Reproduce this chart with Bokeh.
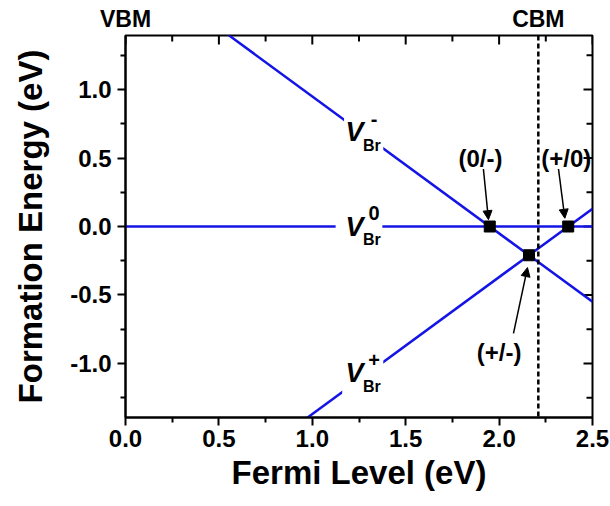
from bokeh.plotting import figure
from bokeh.models import (LinearAxis, Range1d, Span, Label, Arrow, NormalHead,
                          BoxAnnotation, FixedTicker, PrintfTickFormatter)
from bokeh.embed import file_html
from bokeh.resources import INLINE

# ---- data ----
fermi = [0.0, 2.5]                 # Fermi level end points (eV)
e_vbr_minus = [1.95, -0.55]        # V_Br^- formation energy at those ends
e_vbr_zero = [0.0, 0.0]            # V_Br^0
e_vbr_plus = [-2.37, 0.13]         # V_Br^+
trans_x = [1.95, 2.16, 2.37]       # transition levels (0/-), (+/-), (+/0)
trans_y = [0.0, -0.21, 0.0]
edge_x = [0.0, 2.21]               # VBM, CBM positions
edge_names = ["VBM", "CBM"]
cbm_x = edge_x[1]

x_major = [0.0, 0.5, 1.0, 1.5, 2.0, 2.5]
x_minor = [0.25, 0.75, 1.25, 1.75, 2.25]
y_major = [-1.0, -0.5, 0.0, 0.5, 1.0]
y_minor = [-1.25, -0.75, -0.25, 0.25, 0.75, 1.25]

X_START, X_END = 0.0, 2.5
Y_START, Y_END = -1.395, 1.395
FRAME_W, FRAME_H = 467, 382

FONT = "Liberation Sans"
BLUE = "#1414e6"

p = figure(x_range=Range1d(X_START, X_END), y_range=Range1d(Y_START, Y_END),
           frame_width=FRAME_W, frame_height=FRAME_H,
           min_border_left=125, min_border_right=18, min_border_top=35, min_border_bottom=89,
           output_backend="svg", toolbar_location=None)
p.xgrid.visible = False
p.ygrid.visible = False
p.outline_line_color = "black"
p.outline_line_width = 2
p.background_fill_color = "white"
p.border_fill_color = "white"

fmt = PrintfTickFormatter(format="%.1f")


def style(ax, label_size="24px"):
    ax.axis_line_width = 2
    ax.major_tick_line_width = 2
    ax.minor_tick_line_width = 2
    ax.major_tick_in, ax.major_tick_out = 0, 8
    ax.minor_tick_in, ax.minor_tick_out = 0, 5
    ax.major_label_text_font = FONT
    ax.major_label_text_font_style = "bold"
    ax.major_label_text_font_size = label_size
    ax.major_label_text_color = "black"
    ax.axis_label_text_font = FONT
    ax.axis_label_text_font_style = "bold"
    ax.axis_label_text_color = "black"


xa = p.xaxis[0]
xa.ticker = FixedTicker(ticks=x_major, minor_ticks=x_minor)
xa.formatter = fmt
style(xa)
xa.major_label_standoff = 4
xa.axis_label = "Fermi Level (eV)"
xa.axis_label_text_font_size = "33px"
xa.axis_label_standoff = 4

ya = p.yaxis[0]
ya.ticker = FixedTicker(ticks=y_major, minor_ticks=y_minor)
ya.formatter = fmt
style(ya)
ya.major_label_standoff = 6
ya.axis_label = "Formation Energy (eV)"
ya.axis_label_text_font_size = "33px"
ya.axis_label_standoff = 18

# VBM / CBM labels via a top axis
edge_axis = LinearAxis(ticker=FixedTicker(ticks=edge_x),
                       major_label_overrides={edge_x[0]: edge_names[0], edge_x[1]: edge_names[1]})
style(edge_axis, "23px")
edge_axis.axis_line_color = None
edge_axis.major_tick_line_color = None
edge_axis.minor_tick_line_color = None
edge_axis.major_tick_out = 0
edge_axis.minor_tick_out = 0
edge_axis.major_label_standoff = 4
p.add_layout(edge_axis, "above")

# inward ticks on top and right frame edges (lengths in px converted to data units)
dy_per_px = (Y_END - Y_START) / FRAME_H
dx_per_px = (X_END - X_START) / FRAME_W


def top_ticks(xs, n_px):
    p.segment(x0=xs, y0=[Y_END] * len(xs), x1=xs, y1=[Y_END - n_px * dy_per_px] * len(xs),
              line_color="black", line_width=2)


def right_ticks(ys, n_px):
    p.segment(x0=[X_END] * len(ys), y0=ys, x1=[X_END - n_px * dx_per_px] * len(ys), y1=ys,
              line_color="black", line_width=2)


top_ticks(x_major, 9)
top_ticks(x_minor, 6)
right_ticks(y_major, 9)
right_ticks(y_minor, 6)

# lines
for ys in (e_vbr_minus, e_vbr_zero, e_vbr_plus):
    p.line(fermi, ys, line_color=BLUE, line_width=2.5)

# CBM dashed line
p.add_layout(Span(location=cbm_x, dimension="height", line_color="black",
                  line_width=2.5, line_dash="5 3"))

# gaps in lines behind labels
for l, r, b, t in ((1.17, 1.38, 0.55, 0.80), (1.125, 1.375, -0.05, 0.05), (1.16, 1.38, -1.23, -0.97)):
    p.add_layout(BoxAnnotation(left=l, right=r, bottom=b, top=t, fill_color="white",
                               fill_alpha=1, line_color=None))

# transition-level markers
p.scatter(trans_x, trans_y, marker="square", size=11, fill_color="black", line_color="black")


def lab(x, y, text, size, style="bold", align="center", baseline="middle"):
    p.add_layout(Label(x=x, y=y, text=text, text_font=FONT, text_font_style=style,
                       text_font_size=size, text_color="black", text_align=align,
                       text_baseline=baseline))


# V_Br labels
for vy, sup in ((0.69, "-"), (0.0, "0"), (-1.073, "+")):
    vx = 1.226
    lab(vx, vy, "V", "27px", "bold italic")
    lab(vx + 0.105, vy + 0.097, sup, "20px")
    lab(vx + 0.093, vy - 0.095, "Br", "16px")

# transition labels & arrows
lab(1.90, 0.50, "(0/-)", "24px")
lab(2.36, 0.50, "(+/0)", "24px")
lab(2.00, -0.92, "(+/-)", "24px")

for xs, ys, xe, ye in ((1.916, 0.42, 1.943, 0.05), (2.318, 0.42, 2.352, 0.06), (2.077, -0.78, 2.152, -0.30)):
    p.add_layout(Arrow(x_start=xs, y_start=ys, x_end=xe, y_end=ye, line_color="black",
                       line_width=1.5, end=NormalHead(size=9, fill_color="black", line_color="black")))

open("out.html", "w").write(file_html(p, INLINE))
